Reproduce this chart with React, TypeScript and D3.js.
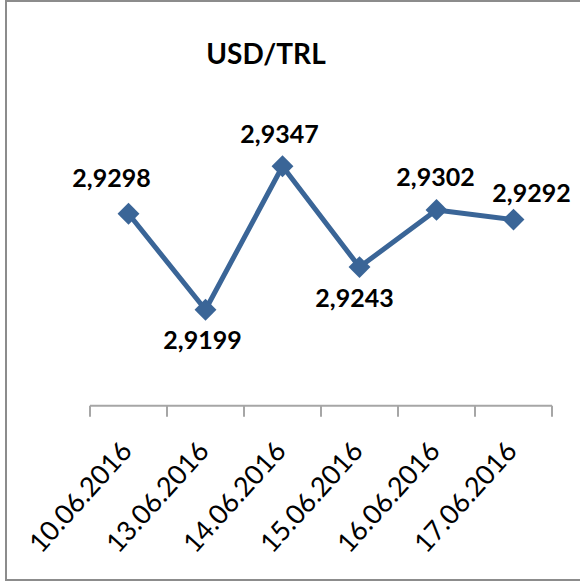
import React from "react";
import * as d3 from "d3";

const title = "USD/TRL";
const dates = ["10.06.2016", "13.06.2016", "14.06.2016", "15.06.2016", "16.06.2016", "17.06.2016"];
const rates = [2.9298, 2.9199, 2.9347, 2.9243, 2.9302, 2.9292];
const rateLabels = ["2,9298", "2,9199", "2,9347", "2,9243", "2,9302", "2,9292"];
// label placement offsets (layout only)
const labelDx = [-17, -3, -3, -5, -1, 18];
const labelDy = [-27, 39, -23, 40, -24, -18];

const W = 580;
const H = 583;
const color = "#3a6597";
const font = "Lato, 'Open Sans', sans-serif";

export default function App() {
  const x = d3.scaleBand<string>().domain(dates).range([90, 552]);
  const y = d3.scaleLinear().domain([2.91, 2.936]).range([405.7, 153.7]);
  const cx = (d: string) => (x(d) as number) + x.bandwidth() / 2;
  const line = d3
    .line<number>()
    .x((_, i) => cx(dates[i]))
    .y((v) => y(v));
  const diamond = d3.symbol().type(d3.symbolSquare).size(240)() as string;
  const axisY = y(2.91);
  const ticks = [...dates.map((d) => x(d) as number), 552];

  return (
    <svg
      width={W}
      height={H}
      style={{ position: "absolute", left: 0, top: 0, background: "#fff" }}
    >
      <rect x={0} y={0} width={W} height={H} fill="#fff" />
      <rect x={6} y={1} width={620} height={579} fill="none" stroke="#8c8c8c" strokeWidth={2} />
      <text x={266} y={64} textAnchor="middle" fontFamily={font} fontWeight="bold" fontSize={28} fill="#000">
        {title}
      </text>
      <line x1={90} x2={552} y1={axisY} y2={axisY} stroke="#a6a6a6" strokeWidth={2} />
      {ticks.map((t, i) => (
        <line key={i} x1={t} x2={t} y1={axisY} y2={axisY + 11} stroke="#a6a6a6" strokeWidth={2} />
      ))}
      {dates.map((d) => (
        <text
          key={d}
          transform={`translate(${cx(d) + 5},452) rotate(-48)`}
          textAnchor="end"
          fontFamily={font}
          fontSize={27}
          fill="#000"
        >
          {d}
        </text>
      ))}
      <path d={line(rates) as string} fill="none" stroke={color} strokeWidth={5} strokeLinejoin="round" />
      {rates.map((v, i) => (
        <path
          key={i}
          d={diamond}
          transform={`translate(${cx(dates[i])},${y(v)}) rotate(45)`}
          fill={color}
        />
      ))}
      {rates.map((v, i) => (
        <text
          key={i}
          x={cx(dates[i]) + labelDx[i]}
          y={y(v) + labelDy[i]}
          textAnchor="middle"
          fontFamily={font}
          fontWeight="bold"
          fontSize={25}
          fill="#000"
        >
          {rateLabels[i]}
        </text>
      ))}
    </svg>
  );
}
